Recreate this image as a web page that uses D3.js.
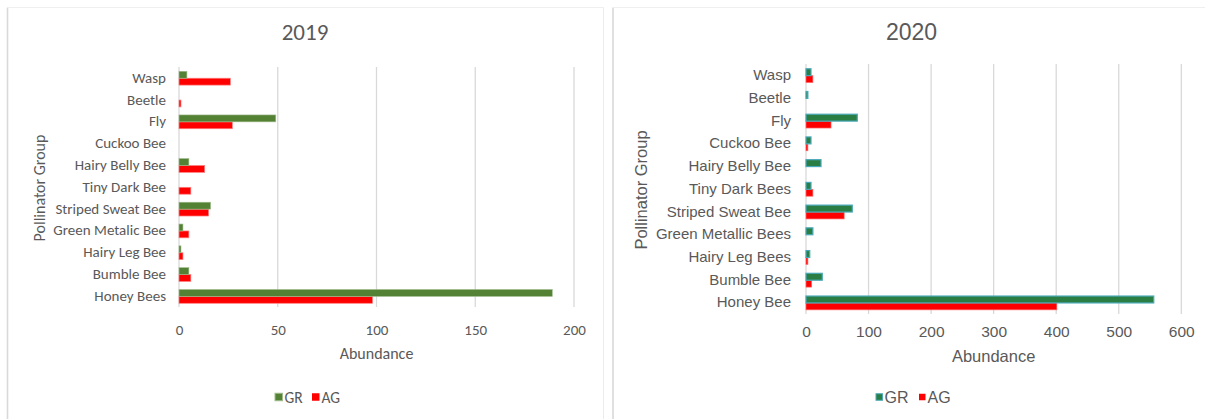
<!DOCTYPE html>
<html>
<head>
<meta charset="utf-8">
<script src="https://cdn.jsdelivr.net/npm/d3@7"></script>
<style>
  html, body { margin: 0; padding: 0; background: #ffffff; }
  svg { display: block; }
</style>
</head>
<body>
<svg id="chart" width="1205" height="419"></svg>
<script>
// Pollinator groups, listed top to bottom as they appear on each panel
const categories2019 = ["Wasp", "Beetle", "Fly", "Cuckoo Bee", "Hairy Belly Bee", "Tiny Dark Bee",
  "Striped Sweat Bee", "Green Metalic Bee", "Hairy Leg Bee", "Bumble Bee", "Honey Bees"];
const gr2019 = [4, 0, 49, 0, 5, 0, 16, 2, 1, 5, 189];
const ag2019 = [26, 1, 27, 0, 13, 6, 15, 5, 2, 6, 98];
const ticks2019 = [0, 50, 100, 150, 200];

const categories2020 = ["Wasp", "Beetle", "Fly", "Cuckoo Bee", "Hairy Belly Bee", "Tiny Dark Bees",
  "Striped Sweat Bee", "Green Metallic Bees", "Hairy Leg Bees", "Bumble Bee", "Honey Bee"];
const gr2020 = [8, 3, 82, 8, 24, 8, 74, 11, 6, 26, 556];
const ag2020 = [11, 0, 40, 3, 0, 11, 61, 0, 3, 9, 401];
const ticks2020 = [0, 100, 200, 300, 400, 500, 600];

const seriesNames = ["GR", "AG"];

const svg = d3.select("#chart");
const textColor = "#595959";
const gridColor = "#d9d9d9";

function drawPanel(opt) {
  const g = svg.append("g");

  // panel frame
  g.append("line").attr("x1", opt.frame[0]).attr("x2", opt.frame[0])
    .attr("y1", opt.frame[1]).attr("y2", 419)
    .attr("stroke", "#d9d9d9").attr("stroke-width", 1.6);
  g.append("line").attr("x1", opt.frame[0]).attr("x2", opt.frame[2])
    .attr("y1", opt.frame[1]).attr("y2", opt.frame[1])
    .attr("stroke", "#efefef").attr("stroke-width", 1);
  if (opt.frame[2] < 1205) {
    g.append("line").attr("x1", opt.frame[2]).attr("x2", opt.frame[2])
      .attr("y1", opt.frame[1]).attr("y2", 419)
      .attr("stroke", "#ececec").attr("stroke-width", 1);
  }

  const x = d3.scaleLinear().domain(opt.domain).range(opt.xRange);
  const y = d3.scaleBand().domain(opt.categories).range(opt.yRange).padding(0);
  const bw = y.bandwidth();
  const barH = opt.barH;

  // vertical gridlines
  g.append("g").selectAll("line").data(opt.ticks).join("line")
    .attr("x1", d => x(d)).attr("x2", d => x(d))
    .attr("y1", opt.yRange[0]).attr("y2", opt.yRange[1])
    .attr("stroke", gridColor).attr("stroke-width", 1.3);

  // x axis tick labels
  const xAxis = d3.axisBottom(x).tickValues(opt.ticks).tickSize(0).tickPadding(0);
  const xa = g.append("g").attr("transform", `translate(0,${opt.xTickY})`).call(xAxis);
  xa.select(".domain").remove();
  xa.selectAll("text").attr("fill", textColor).attr("font-family", opt.font)
    .attr("font-size", opt.tickSize).attr("dy", "0.35em").attr("y", 0);

  // y axis category labels
  const yAxis = d3.axisLeft(y).tickSize(0).tickPadding(0);
  const ya = g.append("g").attr("transform", `translate(${opt.labelX},0)`).call(yAxis);
  ya.select(".domain").remove();
  ya.selectAll("text").attr("fill", textColor).attr("font-family", opt.font)
    .attr("font-size", opt.catSize).attr("x", 0);

  // bars: GR above, AG below within each category
  const rows = opt.categories.map((c, i) => ({ c, gr: opt.gr[i], ag: opt.ag[i] }));
  g.append("g").selectAll("rect").data(rows.filter(d => d.ag > 0)).join("rect")
    .attr("x", x(0)).attr("y", d => y(d.c) + bw / 2 + opt.agOff)
    .attr("width", d => x(d.ag) - x(0)).attr("height", barH)
    .attr("fill", "#ff0000").attr("stroke", opt.agStroke).attr("stroke-width", 0.7);
  g.append("g").selectAll("rect").data(rows.filter(d => d.gr > 0)).join("rect")
    .attr("x", x(0)).attr("y", d => y(d.c) + bw / 2 + opt.grOff)
    .attr("width", d => x(d.gr) - x(0)).attr("height", barH)
    .attr("fill", opt.grFill).attr("stroke", opt.grStroke).attr("stroke-width", opt.grStrokeW);

  // title
  g.append("text").attr("x", opt.titleX).attr("y", opt.titleY).attr("text-anchor", "middle")
    .attr("dominant-baseline", "central").attr("fill", textColor)
    .attr("font-family", opt.font).attr("font-size", opt.titleSize).text(opt.title);

  // axis titles
  g.append("text").attr("x", (opt.xRange[0] + opt.xRange[1]) / 2).attr("y", opt.xTitleY)
    .attr("text-anchor", "middle").attr("dominant-baseline", "central").attr("fill", textColor)
    .attr("font-family", opt.font).attr("font-size", opt.axisTitleSize).text("Abundance");
  g.append("text").attr("transform", `translate(${opt.yTitleX},${opt.yTitleY}) rotate(-90)`)
    .attr("text-anchor", "middle").attr("dominant-baseline", "central").attr("fill", textColor)
    .attr("font-family", opt.font).attr("font-size", opt.axisTitleSize).text("Pollinator Group");

  // legend
  const lg = g.append("g");
  const legendItems = [
    { name: seriesNames[0], x: opt.legend[0], fill: opt.grFill, stroke: opt.grStroke },
    { name: seriesNames[1], x: opt.legend[1], fill: "#ff0000", stroke: "none" }
  ];
  legendItems.forEach(it => {
    lg.append("rect").attr("x", it.x).attr("y", opt.legendY - opt.legendSq / 2)
      .attr("width", opt.legendSq).attr("height", opt.legendSq)
      .attr("fill", it.fill).attr("stroke", it.stroke).attr("stroke-width", it.stroke === "none" ? 0 : 1);
    lg.append("text").attr("x", it.x + opt.legendSq + 2).attr("y", opt.legendY)
      .attr("dominant-baseline", "central").attr("fill", textColor)
      .attr("font-family", opt.font).attr("font-size", opt.legendSize).text(it.name);
  });
}

drawPanel({
  title: "2019", categories: categories2019, gr: gr2019, ag: ag2019, ticks: ticks2019,
  domain: [0, 200], xRange: [179, 574], yRange: [67, 307],
  frame: [7.5, 7.5, 603.5],
  font: "'Carlito', 'Liberation Sans Narrow', 'Liberation Sans', sans-serif",
  tickSize: 15, catSize: 15, titleSize: 23, axisTitleSize: 16, legendSize: 15.5,
  labelX: 166, xTickY: 330, titleX: 305, titleY: 32, xTitleY: 353,
  yTitleX: 39, yTitleY: 188,
  barH: 6.9, grOff: -6.6, agOff: 0.3,
  grFill: "#548235", grStroke: "#9fbb8c", grStrokeW: 0.6, agStroke: "#ff8080",
  legend: [275, 312], legendY: 397, legendSq: 7.5
});

drawPanel({
  title: "2020", categories: categories2020, gr: gr2020, ag: ag2020, ticks: ticks2020,
  domain: [0, 600], xRange: [806, 1181.3], yRange: [64, 314],
  frame: [613, 7.5, 1210],
  font: "'Liberation Sans', Arial, sans-serif",
  tickSize: 15.5, catSize: 15, titleSize: 23, axisTitleSize: 16.5, legendSize: 16,
  labelX: 791, xTickY: 332, titleX: 911.5, titleY: 32, xTitleY: 356,
  yTitleX: 641, yTitleY: 190,
  barH: 6.9, grOff: -6.6, agOff: 0.3,
  grFill: "#2a7d43", grStroke: "#4aa9b8", grStrokeW: 1.2, agStroke: "#ff6666",
  legend: [876, 919], legendY: 397, legendSq: 6.5
});
</script>
</body>
</html>
